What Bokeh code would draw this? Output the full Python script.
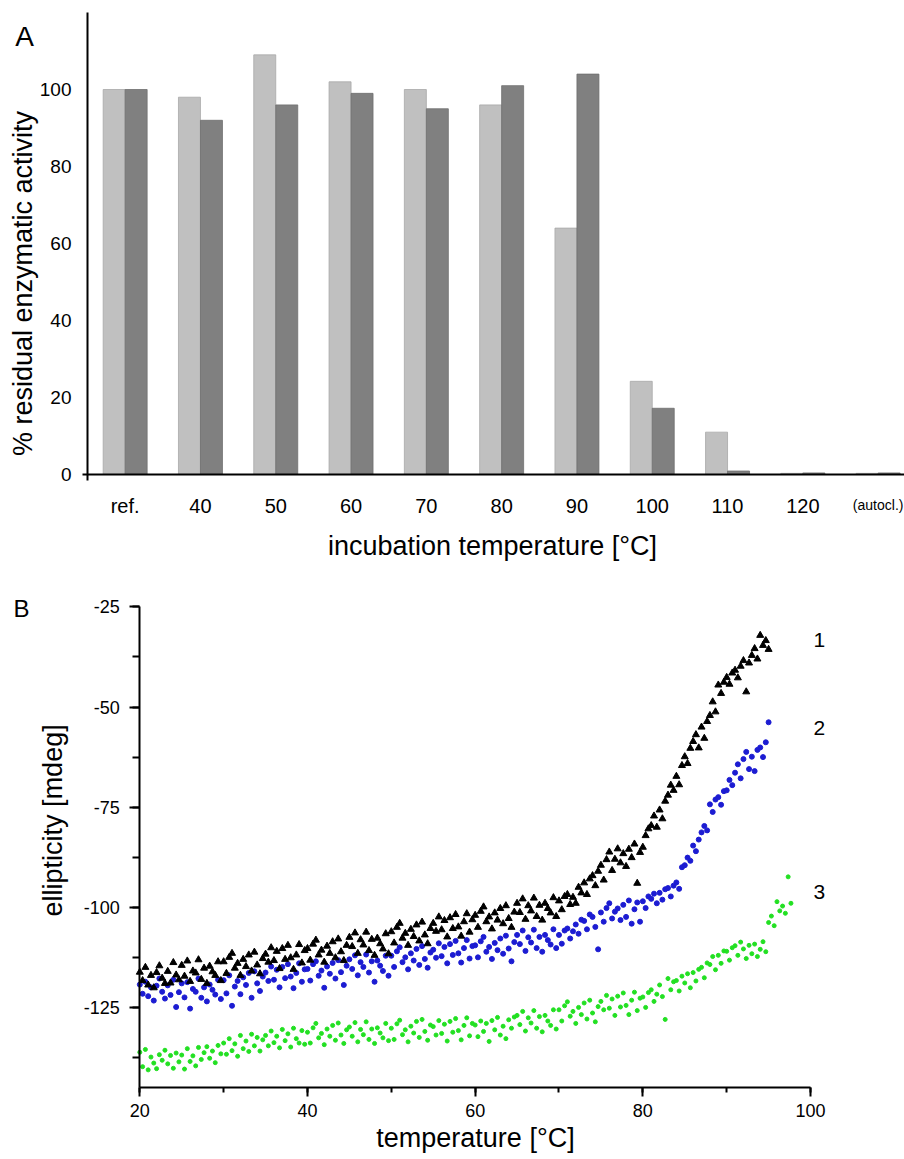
import math
from bokeh.plotting import figure
from bokeh.layouts import column
from bokeh.models import Range1d, FixedTicker, SingleIntervalTicker, Label, PrintfTickFormatter
from bokeh.embed import file_html
from bokeh.resources import INLINE

FONT = "Liberation Sans"

# ---------------- Panel A data ----------------
categories = ["ref.", "40", "50", "60", "70", "80", "90", "100", "110", "120", "(autocl.)"]
activity_light = [100, 98, 109, 102, 100, 96, 64, 24.2, 11, 0.3, 0.3]
activity_dark = [100, 92, 96, 99, 95, 101, 104, 17.2, 0.9, 0.4, 0.4]
y_ticks_a = [0, 20, 40, 60, 80, 100]

# ---------------- Panel B data (ellipticity, mdeg; 3 readings per degree from 20 C) ----------------
ellip_1 = [
    -116.2, -118.3, -115.0, -119.4, -117.0, -120.1, -116.3, -114.6, -117.7, -119.0, -116.0, -118.9, -113.8, -116.9, -118.1,
    -114.5, -117.2, -113.4, -118.5, -115.9, -116.4, -113.1, -118.0, -115.2, -119.0, -114.7, -116.1, -117.0, -113.6, -118.3,
    -113.6, -116.5, -112.5, -111.5, -115.2, -114.0, -117.0, -113.0, -114.8, -111.9, -115.9, -111.2, -114.4, -116.6, -112.8,
    -111.7, -113.7, -110.1, -113.3, -111.0, -115.3, -110.3, -113.0, -109.5, -112.6, -115.5, -111.9, -109.3, -113.9, -110.8,
    -110.3, -113.2, -109.2, -108.2, -111.9, -110.7, -113.7, -109.7, -111.5, -108.6, -112.6, -107.9, -111.1, -113.3, -109.5,
    -107.5, -109.8, -106.4, -111.5, -108.1, -109.4, -106.2, -110.8, -108.0, -112.0, -107.7, -109.1, -110.4, -106.6, -111.6,
    -106.1, -108.9, -105.0, -104.0, -107.7, -106.5, -109.5, -105.5, -107.3, -104.4, -108.4, -103.7, -106.9, -109.1, -105.3,
    -104.0, -106.0, -102.4, -105.6, -103.3, -107.4, -102.6, -105.3, -101.8, -104.9, -107.2, -103.6, -101.6, -106.2, -103.1,
    -102.0, -105.0, -101.0, -99.9, -103.6, -102.4, -105.4, -101.4, -103.2, -100.3, -104.1, -99.6, -102.8, -105.0, -101.2,
    -99.0, -101.3, -97.9, -103.0, -99.6, -100.9, -97.7, -102.3, -99.5, -103.2, -99.0, -100.3, -101.4, -97.6, -102.3,
    -98.4, -100.6, -97.3, -96.8, -99.3, -97.5, -99.0, -95.0, -96.4, -93.9, -96.8, -92.9, -92.1, -94.6, -91.0,
    -89.5, -93.2, -88.1, -86.2, -90.8, -88.0, -85.4, -88.9, -86.6, -89.8, -85.5, -87.6, -84.2, -94.0, -86.3,
    -85.0, -82.1, -80.4, -79.6, -77.2, -80.0, -75.7, -77.9, -73.5, -72.0, -69.5, -70.8, -67.3, -69.4, -64.6,
    -62.4, -64.1, -60.3, -58.6, -56.9, -60.2, -55.0, -57.8, -53.6, -52.1, -48.7, -51.2, -44.5, -46.6, -43.8,
    -42.6, -44.3, -41.5, -40.8, -42.7, -39.8, -38.4, -46.2, -39.0, -37.1, -35.4, -38.0, -32.1, -34.6, -33.4,
    -35.6,
]
ellip_2 = [
    -119.3, -121.6, -118.6, -122.2, -120.0, -123.3, -119.6, -117.8, -121.1, -122.8, -119.5, -121.9, -118.1, -124.9, -121.2,
    -119.0, -122.5, -118.7, -125.3, -120.4, -121.1, -117.8, -122.6, -120.0, -123.5, -119.3, -120.6, -121.8, -118.1, -122.9,
    -118.2, -121.5, -117.0, -124.6, -119.8, -118.4, -121.7, -117.5, -119.4, -116.4, -122.6, -116.0, -119.0, -120.9, -117.3,
    -116.3, -118.4, -114.8, -118.1, -115.6, -120.0, -114.9, -117.7, -114.2, -117.3, -120.2, -116.4, -114.0, -118.6, -115.5,
    -115.4, -118.3, -114.2, -113.5, -117.1, -115.8, -120.1, -114.8, -116.6, -113.9, -117.8, -113.2, -116.2, -119.4, -114.6,
    -113.0, -115.4, -112.0, -117.0, -113.7, -114.9, -111.8, -116.3, -113.5, -118.6, -113.3, -114.6, -115.9, -112.1, -117.1,
    -112.1, -114.9, -111.0, -110.0, -113.7, -112.5, -115.5, -111.5, -113.3, -110.4, -114.4, -109.7, -112.9, -115.1, -111.3,
    -110.6, -112.6, -109.0, -112.2, -109.9, -114.0, -109.2, -111.9, -108.4, -111.5, -113.8, -110.2, -108.2, -112.8, -109.7,
    -109.5, -112.5, -108.5, -107.4, -111.1, -109.9, -112.9, -108.9, -110.7, -107.8, -111.6, -107.1, -110.3, -113.5, -108.7,
    -106.9, -109.2, -105.8, -110.9, -107.5, -108.8, -105.6, -110.2, -107.4, -111.1, -106.9, -108.2, -109.3, -105.5, -110.2,
    -106.9, -109.1, -105.8, -105.3, -107.8, -106.0, -104.3, -106.6, -103.1, -103.4, -105.5, -101.8, -102.4, -104.9, -110.5,
    -101.3, -103.6, -100.2, -99.0, -102.8, -101.1, -100.3, -103.2, -99.4, -102.4, -98.3, -104.1, -100.5, -98.8, -103.6,
    -98.5, -100.2, -97.3, -97.9, -96.6, -99.0, -96.4, -98.1, -95.5, -95.2, -97.3, -94.6, -93.8, -95.4, -90.0,
    -89.5, -87.6, -88.4, -84.6, -86.0, -83.1, -81.3, -79.7, -80.8, -74.3, -76.2, -73.1, -72.5, -74.4, -71.0,
    -70.8, -68.2, -69.5, -66.4, -64.3, -67.8, -63.0, -61.2, -65.5, -62.4, -66.0, -60.7, -60.1, -62.5, -58.8,
    -53.8,
]
ellip_3 = [
    -136.2, -139.8, -135.5, -140.6, -137.4, -138.9, -140.3, -136.8, -138.2, -135.7, -139.1, -137.0, -140.2, -136.4, -138.6,
    -136.9, -140.4, -135.3, -138.5, -137.1, -139.6, -135.0, -138.0, -136.3, -134.8, -137.7, -135.9, -138.8, -134.5, -136.6,
    -133.9, -136.7, -132.8, -135.8, -134.1, -137.2, -132.0, -135.3, -133.4, -136.0, -131.7, -134.6, -132.5, -135.9, -133.1,
    -132.0, -134.6, -130.9, -133.8, -132.2, -135.1, -130.5, -133.3, -131.6, -134.9, -130.2, -132.8, -133.9, -130.8, -134.2,
    -131.2, -133.9, -130.1, -129.0, -132.6, -131.5, -134.3, -130.4, -132.2, -129.5, -133.2, -128.9, -131.9, -134.0, -130.6,
    -129.9, -132.2, -128.8, -133.6, -130.5, -131.8, -128.6, -133.0, -130.4, -134.0, -130.1, -131.4, -132.6, -129.0, -133.3,
    -130.2, -133.0, -129.1, -128.2, -131.8, -130.6, -133.6, -129.7, -131.4, -128.5, -132.5, -128.0, -131.0, -133.2, -129.4,
    -129.8, -131.9, -128.3, -131.5, -129.2, -133.4, -128.5, -131.2, -127.8, -130.8, -133.1, -129.5, -127.6, -132.1, -129.0,
    -129.4, -132.3, -128.4, -131.0, -129.0, -133.5, -128.3, -130.6, -127.5, -131.9, -129.7, -132.8, -128.1, -130.2, -127.4,
    -127.0, -129.3, -126.0, -130.9, -127.6, -128.9, -125.8, -130.2, -127.3, -131.1, -127.0, -128.4, -129.5, -125.6, -130.4,
    -125.6, -128.4, -124.6, -123.6, -127.2, -126.0, -129.0, -125.0, -126.8, -123.9, -127.9, -123.2, -126.4, -128.6, -124.8,
    -123.5, -125.6, -122.0, -125.2, -122.9, -127.0, -122.2, -124.9, -121.4, -124.5, -126.8, -123.2, -121.2, -125.8, -122.7,
    -122.4, -125.0, -121.3, -120.6, -123.5, -121.7, -119.4, -122.3, -128.0, -117.8, -120.6, -118.6, -118.3, -120.9, -117.2,
    -118.9, -116.6, -120.1, -116.3, -118.4, -115.5, -115.0, -117.6, -113.9, -114.3, -112.3, -115.6, -112.0, -114.0, -110.9,
    -111.0, -113.2, -110.1, -109.6, -112.0, -108.7, -110.4, -112.8, -109.5, -111.6, -109.2, -112.3, -110.5, -108.6, -111.1,
    -103.8, -102.2, -104.6, -98.6, -100.9, -99.7, -101.5, -92.4, -99.0,
]
T_START = 20
READINGS_PER_DEGREE = 3
temp_1 = [T_START + i / READINGS_PER_DEGREE for i in range(len(ellip_1))]
temp_2 = [T_START + i / READINGS_PER_DEGREE for i in range(len(ellip_2))]
temp_3 = [T_START + i / READINGS_PER_DEGREE for i in range(len(ellip_3))]
curve_labels = ["1", "2", "3"]
curve_label_y = [-33.3, -55.3, -96.1]


def label(p, x, y, text, size, angle=0.0, align="center", baseline="middle"):
    p.add_layout(Label(x=x, y=y, text=text, text_font=FONT, text_font_size=f"{size}px",
                       text_color="black", text_align=align, text_baseline=baseline,
                       angle=angle))


def bare_figure(w, h, xr, yr):
    p = figure(width=w, height=h, output_backend="svg", toolbar_location=None,
               x_range=Range1d(*xr), y_range=Range1d(*yr),
               min_border=0, min_border_left=0, min_border_right=0,
               min_border_top=0, min_border_bottom=0)
    p.outline_line_color = None
    p.xgrid.visible = False
    p.ygrid.visible = False
    p.title.visible = False
    return p


W = 904
# ---------------- Panel A ----------------
p1 = bare_figure(W, 565, (-1.6554, 10.35), (-23.64, 123.12))

idx = list(range(len(categories)))
bw = 0.292
p1.vbar(x=[i - bw / 2 for i in idx], top=activity_light, width=bw,
        fill_color="#c0c0c0", line_color="#a8a8a8", line_width=0.8)
p1.vbar(x=[i + bw / 2 for i in idx], top=activity_dark, width=bw,
        fill_color="#808080", line_color="#6e6e6e", line_width=0.8)

xa = p1.xaxis[0]
xa.fixed_location = 0
xa.bounds = (-0.566, 10.35)
xa.ticker = FixedTicker(ticks=idx)
xa.major_label_overrides = {i: (c if i < len(categories) - 1 else "") for i, c in enumerate(categories)}
xa.major_tick_out = 0
xa.major_tick_in = 0
xa.minor_tick_out = 0
xa.minor_tick_in = 0
xa.axis_line_width = 2
xa.major_label_standoff = 21
xa.major_label_text_font = FONT
xa.major_label_text_font_size = "20px"
xa.major_label_text_color = "black"

ya = p1.yaxis[0]
ya.fixed_location = -0.5
ya.bounds = (-1.6, 120)
ya.ticker = FixedTicker(ticks=y_ticks_a)
ya.major_tick_out = 0
ya.major_tick_in = 0
ya.minor_tick_out = 0
ya.minor_tick_in = 0
ya.axis_line_width = 2
ya.major_label_standoff = 16
ya.major_label_text_font = FONT
ya.major_label_text_font_size = "19px"
ya.major_label_text_color = "black"

label(p1, 10, -7.8, categories[-1], 14)
label(p1, 4.878, -18.7, "incubation temperature [°C]", 27)
label(p1, -1.35, 49.6, "% residual enzymatic activity", 27, angle=math.pi / 2)
label(p1, -1.337, 113.77, "A", 28)

# ---------------- Panel B ----------------
p2 = bare_figure(W, 594, (3.385, 111.21), (-162.98, -14.66))

p2.scatter(temp_3, ellip_3, marker="circle", size=4, fill_color="#22e022", line_color="#22e022")
p2.scatter(temp_2, ellip_2, marker="circle", size=5, fill_color="#1c1cd2", line_color="#1c1cd2")
p2.scatter(temp_1, ellip_1, marker="triangle", size=7, fill_color="black", line_color="black")

bx = p2.xaxis[0]
bx.fixed_location = -145
bx.bounds = (20, 100)
bx.ticker = SingleIntervalTicker(interval=20, num_minor_ticks=2)
bx.formatter = PrintfTickFormatter(format="%d")
bx.major_tick_out = 9
bx.major_tick_in = 0
bx.minor_tick_out = 5
bx.minor_tick_in = 0
bx.axis_line_width = 2
bx.major_tick_line_width = 2
bx.minor_tick_line_width = 2
bx.major_label_standoff = 8
bx.major_label_text_font = FONT
bx.major_label_text_font_size = "18px"
bx.major_label_text_color = "black"

by = p2.yaxis[0]
by.fixed_location = 20
by.bounds = (-145, -25)
by.ticker = SingleIntervalTicker(interval=25, num_minor_ticks=2)
by.formatter = PrintfTickFormatter(format="%d")
by.major_tick_out = 10
by.major_tick_in = 0
by.minor_tick_out = 7
by.minor_tick_in = 0
by.axis_line_width = 2
by.major_tick_line_width = 2
by.minor_tick_line_width = 2
by.major_label_standoff = 10
by.major_label_text_font = FONT
by.major_label_text_font_size = "18px"
by.major_label_text_color = "black"

label(p2, 60.04, -157.7, "temperature [°C]", 27)
label(p2, 9.59, -78.3, "ellipticity [mdeg]", 27, angle=math.pi / 2)
label(p2, 5.89, -25.4, "B", 24)
for t, yv in zip(curve_labels, curve_label_y):
    label(p2, 100.36, yv, t, 21, align="left")

layout = column(p1, p2)
open("out.html", "w").write(file_html(layout, INLINE))
